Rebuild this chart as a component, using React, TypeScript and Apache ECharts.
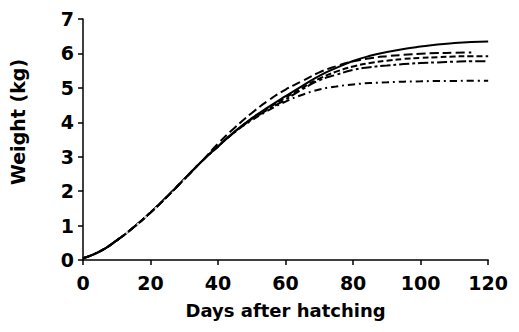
import React, { useEffect, useRef } from "react";
import * as echarts from "echarts";

const days = [0, 5, 10, 15, 20, 25, 30, 35, 40, 45, 50, 55, 60, 65, 70, 75, 80, 85, 90, 95, 100, 105, 110, 115, 120];
const early = [0.05, 0.25, 0.57, 0.95, 1.38, 1.85, 2.35, 2.85, 3.3];
const curveA = [...early, 3.74, 4.12, 4.45, 4.76, 5.06, 5.35, 5.58, 5.78, 5.93, 6.04, 6.13, 6.2, 6.26, 6.3, 6.33, 6.35];
const curveB = [...early.slice(0, 8), 3.38, 3.85, 4.27, 4.64, 4.95, 5.2, 5.45, 5.63, 5.77, 5.86, 5.92, 5.96, 5.99, 6.01, 6.02, 6.03];
const curveC = [...early, 3.73, 4.1, 4.42, 4.72, 5.0, 5.27, 5.47, 5.62, 5.72, 5.79, 5.84, 5.87, 5.89, 5.91, 5.92, 5.92];
const curveD = [...early, 3.72, 4.08, 4.38, 4.66, 4.96, 5.22, 5.38, 5.52, 5.6, 5.65, 5.69, 5.72, 5.74, 5.76, 5.77, 5.77];
const curveE = [...early, 3.72, 4.06, 4.35, 4.6, 4.8, 4.95, 5.04, 5.1, 5.14, 5.16, 5.18, 5.19, 5.2, 5.2, 5.21, 5.21];
const obsDays = [13, 16.3, 18.5, 21.6, 24.3, 26.7, 29.9];
const obsWeight = [0.8, 1.04, 1.25, 1.5, 1.72, 1.95, 2.3];

const FONT = "'DejaVu Sans', sans-serif";

function pairs(xs: number[], ys: number[]) {
  return ys.map((y, i) => [xs[i], y]);
}

export default function App() {
  const ref = useRef<HTMLDivElement>(null);
  useEffect(() => {
    if (!ref.current) return;
    const chart = echarts.init(ref.current, undefined, { renderer: "svg" });
    const mk = (name: string, data: number[], type: any) => ({
      name,
      type: "line",
      data: pairs(days, data),
      smooth: true,
      showSymbol: false,
      symbol: "none",
      lineStyle: { color: "#000", width: 2, type },
    });
    chart.setOption({
      animation: false,
      backgroundColor: "#fff",
      grid: { left: 75, right: 14, top: 11, bottom: 57, containLabel: false },
      xAxis: {
        type: "value",
        min: 0,
        max: 120,
        interval: 20,
        name: "Days after hatching",
        nameLocation: "middle",
        nameGap: 41,
        nameTextStyle: { fontFamily: FONT, fontWeight: "bold", fontSize: 18, color: "#000" },
        axisLine: { show: true, lineStyle: { color: "#000", width: 1.5 } },
        axisTick: { show: true, length: 5, lineStyle: { color: "#000", width: 1.5 } },
        axisLabel: { fontFamily: FONT, fontWeight: "bold", fontSize: 19, color: "#000", margin: 13 },
        splitLine: { show: false },
      },
      yAxis: {
        type: "value",
        min: 0,
        max: 7,
        interval: 1,
        axisLine: { show: true, lineStyle: { color: "#000", width: 1.5 } },
        axisTick: { show: true, length: 5, lineStyle: { color: "#000", width: 1.5 } },
        axisLabel: { fontFamily: FONT, fontWeight: "bold", fontSize: 19, color: "#000", margin: 9 },
        splitLine: { show: false },
      },
      graphic: [
        {
          type: "text",
          x: 10,
          y: 114,
          rotation: Math.PI / 2,
          style: {
            text: "Weight (kg)",
            fontFamily: FONT,
            fontWeight: "bold",
            fontSize: 19,
            fill: "#000",
            align: "center",
            verticalAlign: "middle",
          },
        },
      ],
      series: [
        mk("A", curveA, "solid"),
        mk("B", curveB.slice(0, 24), [9, 4]),
        mk("C", curveC, [6, 3]),
        mk("D", curveD, [10, 3, 3, 3]),
        mk("E", curveE, [7, 4, 2, 4]),
        {
          name: "obs",
          type: "scatter",
          data: pairs(obsDays, obsWeight),
          symbol: "circle",
          symbolSize: 3,
          itemStyle: { color: "#fff" },
          z: 5,
        },
      ],
    });
    return () => chart.dispose();
  }, []);
  return <div ref={ref} style={{ width: 503, height: 316 }} />;
}
